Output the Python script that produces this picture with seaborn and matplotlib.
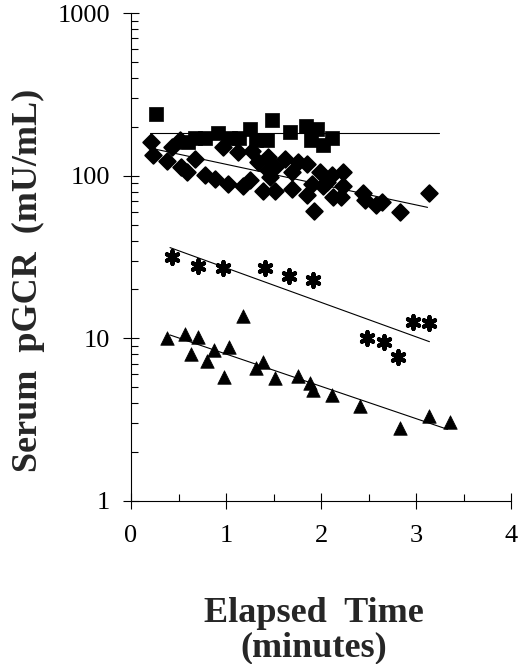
import numpy as np
import pandas as pd
import matplotlib
matplotlib.use("Agg")
import matplotlib.pyplot as plt
import seaborn as sns
from matplotlib.ticker import FixedLocator, NullFormatter, MultipleLocator

# time in minutes, serum pGCR in mU/mL
sq_x = [0.26, 0.60, 0.67, 0.78, 0.92, 1.04, 1.14, 1.25, 1.31, 1.43, 1.48, 1.67,
        1.84, 1.89, 1.96, 2.02, 2.11]
sq_y = [241, 161, 172, 172, 183, 172, 170, 193, 166, 166, 222, 185,
        202, 166, 193, 155, 172]

dm_x = [0.21, 0.23, 0.38, 0.43, 0.51, 0.53, 0.59, 0.67, 0.78, 0.88, 0.97, 1.02,
        1.13, 1.18, 1.25, 1.27, 1.34, 1.39, 1.44, 1.44, 1.46, 1.51, 1.51, 1.62,
        1.69, 1.69, 1.76, 1.85, 1.85, 1.90, 1.93, 1.99, 2.02, 2.06, 2.11, 2.13,
        2.21, 2.23, 2.23, 2.44, 2.46, 2.58, 2.64, 2.83, 3.14]
dm_y = [161, 134, 124, 150, 165, 113, 105, 127, 101, 96, 150, 89,
        140, 87, 94, 143, 121, 81, 130, 108, 98, 81, 113, 127,
        105, 83, 121, 119, 76, 89, 61, 105, 87, 92, 101, 74,
        74, 105, 87, 78, 71, 66, 69, 60, 78]

ast_x = [0.43, 0.70, 0.97, 1.41, 1.66, 1.91, 2.48, 2.66, 2.81, 2.97, 3.14]
ast_y = [31.9, 27.7, 27.0, 27.1, 24.1, 22.9, 10.1, 9.55, 7.64, 12.7, 12.4]

tri_x = [0.38, 0.57, 0.70, 0.63, 0.87, 0.80, 1.03, 0.98, 1.18, 1.31, 1.39, 1.51,
         1.76, 1.88, 1.91, 2.11, 2.41, 2.83, 3.14, 3.36]
tri_y = [10.0, 10.6, 10.2, 8.0, 8.5, 7.3, 8.9, 5.75, 13.7, 6.6, 7.2, 5.7,
         5.9, 5.3, 4.8, 4.5, 3.85, 2.8, 3.35, 3.04]

# fitted lines (end points)
fit_sq_x, fit_sq_y = [0.20, 3.24], [184, 184]
fit_dm_x, fit_dm_y = [0.23, 3.12], [147, 64]
fit_ast_x, fit_ast_y = [0.41, 3.14], [36.2, 9.55]
fit_tri_x, fit_tri_y = [0.41, 3.33], [10.5, 2.76]

x_ticks = [0, 1, 2, 3, 4]
y_ticks = [1, 10, 100, 1000]

sns.set_style("ticks")
plt.rcParams["font.family"] = ["Liberation Serif", "DejaVu Serif"]

fig = plt.figure(figsize=(5.2, 6.64), dpi=100)
ax = fig.add_axes([0.252, 0.2455, 0.731, 0.7345])

for fx, fy in [(fit_sq_x, fit_sq_y), (fit_dm_x, fit_dm_y),
               (fit_ast_x, fit_ast_y), (fit_tri_x, fit_tri_y)]:
    sns.lineplot(x=fx, y=fy, ax=ax, color="black", linewidth=0.8)

sns.scatterplot(x=sq_x, y=sq_y, ax=ax, marker="s", s=90, color="black",
                edgecolor="black", linewidth=0.5, zorder=3)
sns.scatterplot(x=dm_x, y=dm_y, ax=ax, marker="D", s=72, color="black",
                edgecolor="black", linewidth=1.3, zorder=3)
sns.scatterplot(x=tri_x, y=tri_y, ax=ax, marker="^", s=95, color="black",
                edgecolor="black", linewidth=0.5, zorder=3)
sns.scatterplot(x=ast_x, y=ast_y, ax=ax, marker=(6, 2, 0), s=85, color="black",
                linewidth=3.0, zorder=3)

ax.set_yscale("log")
ax.set_xlim(0, 4)
ax.set_ylim(1, 1000)
ax.set_xticks(x_ticks, [str(t) for t in x_ticks])
ax.set_yticks(y_ticks, [str(t) for t in y_ticks])
ax.xaxis.set_minor_locator(MultipleLocator(0.5))
ax.yaxis.set_minor_locator(FixedLocator([m * 10 ** d for d in range(3) for m in range(2, 10)]))
ax.yaxis.set_minor_formatter(NullFormatter())

ax.tick_params(which="major", direction="inout", length=12, width=0.8,
               labelsize=19, color="black", labelcolor="black")
ax.tick_params(axis="y", which="major", pad=9)
ax.tick_params(axis="x", which="major", pad=11)
ax.tick_params(which="minor", direction="in", length=5, width=0.8, color="black")
for side in ["top", "right"]:
    ax.spines[side].set_visible(False)
for side in ["left", "bottom"]:
    ax.spines[side].set_linewidth(0.8)
    ax.spines[side].set_color("black")
ax.set_xlabel("")
ax.set_ylabel("")

fig.text(28 / 520, 1 - 280 / 664, "Serum  pGCR  (mU/mL)", rotation=90,
         ha="center", va="center", fontsize=26, fontweight="bold")
fig.text(314 / 520, (664 - 622) / 664, "Elapsed  Time", ha="center",
         va="baseline", fontsize=26, fontweight="bold")
fig.text(314 / 520, (664 - 656) / 664, "(minutes)", ha="center",
         va="baseline", fontsize=26, fontweight="bold")

fig.savefig("out.png", dpi=100)
